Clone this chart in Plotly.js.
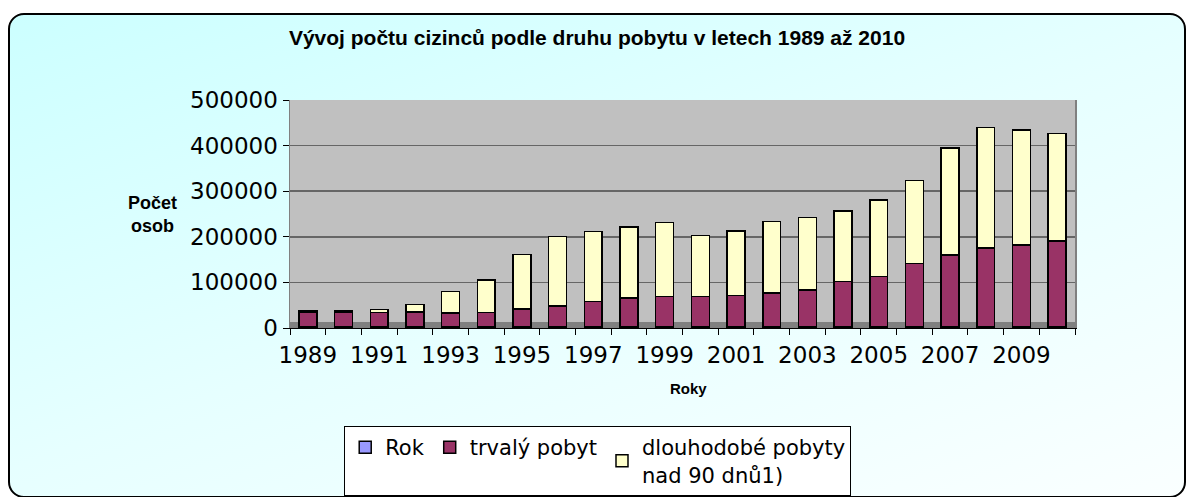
<!DOCTYPE html>
<html>
<head>
<meta charset="utf-8">
<script src="https://cdn.plot.ly/plotly-3.0.1.min.js"></script>
<style>
  html, body { margin: 0; padding: 0; background: #ffffff; overflow: hidden; }
  #frame {
    position: absolute; left: 8px; top: 13px; width: 1174px; height: 481px;
    border: 2px solid #000; border-radius: 16px;
    background: linear-gradient(160deg, #CCFFFF 0%, #E6FFFF 50%, #FAFFFF 100%);
  }
  #chart { position: absolute; left: 0; top: 0; width: 1186px; height: 497px; }
</style>
</head>
<body>
<div id="frame"></div>
<div id="chart"></div>
<script>
const years = [1989,1990,1991,1992,1993,1994,1995,1996,1997,1998,1999,2000,2001,2002,2003,2004,2005,2006,2007,2008,2009,2010];
const rok = years.slice();
const trvaly = [31927,32000,32139,33078,31072,31605,39294,46070,56281,63919,66891,66754,69816,75249,80844,99467,110598,139185,158034,172927,180201,188951];
const dlouhodobe = [2995,3200,6549,16893,46596,72074,119495,152487,153550,155913,161971,134197,140978,156359,159577,154827,167714,182271,234281,264638,252302,235340];
const tickYears = [1989,1991,1993,1995,1997,1999,2001,2003,2005,2007,2009];
const yTicks = [0,100000,200000,300000,400000,500000];
const seriesNames = ['Rok', 'trvalý pobyt', 'dlouhodobé pobyty<br>nad 90 dnů1)'];

const lineStyle = {color: '#000000', width: 1.5};
const traces = [
  {type: 'bar', x: years, y: rok, name: seriesNames[0], marker: {color: '#9999FF', line: lineStyle}},
  {type: 'bar', x: years, y: trvaly, name: seriesNames[1], marker: {color: '#993366', line: lineStyle}},
  {type: 'bar', x: years, y: dlouhodobe, name: seriesNames[2], marker: {color: '#FFFFCC', line: lineStyle}}
];

const layout = {
  width: 1186, height: 497,
  margin: {l: 290, r: 111, t: 100, b: 169, autoexpand: false},
  paper_bgcolor: 'rgba(0,0,0,0)',
  plot_bgcolor: '#C0C0C0',
  barmode: 'stack',
  bargap: 0.5,
  showlegend: true,
  font: {family: 'Liberation Sans, Arial, sans-serif', color: '#000'},
  title: {
    text: '<b>Vývoj počtu cizinců podle druhu pobytu v letech 1989 až 2010</b>',
    font: {family: 'Liberation Sans, Arial, sans-serif', size: 21, color: '#000'},
    x: 597 / 1186, xref: 'container', xanchor: 'center', y: 1 - 38 / 497, yref: 'container', yanchor: 'middle'
  },
  xaxis: {
    type: 'linear',
    range: [1988.5, 2010.5],
    tickmode: 'array', tickvals: tickYears, ticktext: tickYears.map(String),
    ticks: '', showgrid: false, zeroline: false,
    showline: true, linecolor: '#000', linewidth: 1,
    ticklabelstandoff: 6,
    tickfont: {family: 'DejaVu Sans, sans-serif', size: 23, color: '#000'},
    minor: {tick0: 1988.5, dtick: 1, ticks: 'outside', ticklen: 6, tickcolor: '#000', showgrid: false}
  },
  yaxis: {
    range: [0, 500000],
    tickvals: yTicks,
    ticktext: yTicks.map(String),
    ticks: 'outside', ticklen: 6, tickcolor: '#000',
    showgrid: true, gridcolor: '#666666', gridwidth: 1.5,
    zeroline: false,
    showline: true, linecolor: '#808080', linewidth: 1.5, mirror: true,
    tickfont: {family: 'DejaVu Sans, sans-serif', size: 23, color: '#000'}
  },
  legend: {
    orientation: 'h',
    x: 0.392, xanchor: 'center', xref: 'paper',
    y: -0.43, yanchor: 'top', yref: 'paper',
    bgcolor: '#FFFFFF', bordercolor: '#000', borderwidth: 1,
    font: {family: 'DejaVu Sans, sans-serif', size: 21, color: '#000'},
    traceorder: 'normal', itemwidth: 30
  },
  annotations: [
    {text: '<b>Počet<br>osob</b>', xref: 'paper', yref: 'paper', x: (152 - 290) / 785, y: (328 - 214) / 228,
     xanchor: 'center', yanchor: 'middle', showarrow: false, align: 'center',
     font: {family: 'Liberation Sans, Arial, sans-serif', size: 18, color: '#000'}},
    {text: '<b>Roky</b>', xref: 'paper', yref: 'paper', x: (688 - 290) / 785, y: (328 - 388) / 228,
     xanchor: 'center', yanchor: 'middle', showarrow: false,
     font: {family: 'Liberation Sans, Arial, sans-serif', size: 15, color: '#000'}}
  ],
  shapes: [
    {type: 'rect', xref: 'paper', yref: 'paper', x0: 0, x1: 1, y0: 0, y1: 6 / 228,
     fillcolor: '#808080', line: {width: 0}, layer: 'below'}
  ]
};

Plotly.newPlot('chart', traces, layout, {displayModeBar: false, staticPlot: true});
</script>
</body>
</html>
